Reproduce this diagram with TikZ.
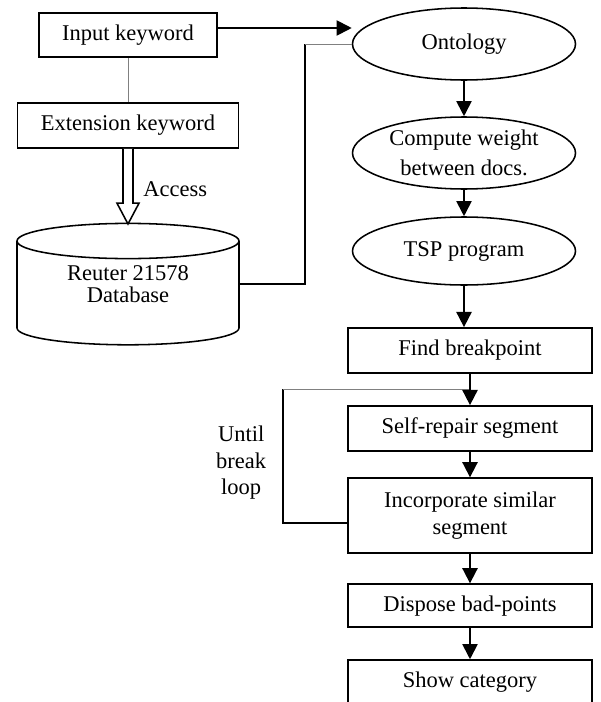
\documentclass[tikz,border=0pt]{standalone}
\usepackage{fontspec}
\setmainfont{Liberation Serif}
\usepackage{tikz}
\usetikzlibrary{shapes.geometric, arrows.meta, calc}
\tikzstyle{box}      = [rectangle, minimum width=6.1cm, minimum height=1.125cm, text centered, draw=black, line width=1.1pt]
\tikzstyle{oval}     = [ellipse, minimum width=5.575cm, minimum height=1.8cm, inner sep=0pt, text centered, draw=black, line width=1.1pt]
\tikzstyle{store}    = [rectangle, minimum width=5.55cm, minimum height=2.2cm, text centered]
\tikzstyle{arrow}    = [line width=1.3pt, -{Triangle[width=0.38cm, length=0.38cm]}]
\tikzstyle{hollow}   = [line width=1.1pt, fill=white, line join=miter]
\tikzstyle{link}     = [line width=1.1pt]
\tikzstyle{thinlink} = [line width=0.7pt, gray]
\tikzset{every node/.style={align=center, font=\fontsize{16}{19}\selectfont}}

\begin{document}
\begin{tikzpicture}
    \useasboundingbox (0,0) rectangle (15,-17.55);

    \node (inp) at ( 3.2,  -0.875)  [box, minimum width=4.45cm, minimum height=1.1cm] {Input keyword};
    \node (ext) at ( 3.2,  -3.14)   [box, minimum width=5.525cm] {Extension keyword};
    \node (db)  at ( 3.2,  -7.1)    [store, font=\fontsize{16}{15.5}\selectfont] {Reuter 21578\\Database};
    \node (acc) at ( 4.38, -4.72)   {Access};
    \node (ont) at (11.6,  -1.1)    [oval] {Ontology};
    \node (cmp) at (11.6,  -3.825)  [oval, font=\fontsize{16}{21}\selectfont] {Compute weight\\between docs.};
    \node (tsp) at (11.6,  -6.275)  [oval, minimum height=1.7cm] {TSP program};
    \node (fbp) at (11.75, -8.76)   [box] {Find breakpoint};
    \node (srp) at (11.75, -10.71)  [box] {Self-repair segment};
    \node (inc) at (11.75, -12.89)  [box, minimum height=1.875cm] {Incorporate similar\\segment};
    \node (dsp) at (11.75, -15.14)  [box, minimum height=1.075cm] {Dispose bad-points};
    \node (shw) at (11.75, -17.05)  [box, minimum height=1.1cm] {Show category};
    \node (unt) at ( 6.03, -11.575) [font=\fontsize{16}{18.8}\selectfont] {Until\\break\\loop};

    % database cylinder
    \draw [link] (3.2,-6.025) ellipse [x radius=2.775, y radius=0.44];
    \draw [link] (0.425,-6.025) -- (0.425,-8.2) arc [start angle=180, end angle=360, x radius=2.775, y radius=0.42] -- (5.975,-6.025);

    \coordinate (dbtop) at (3.2,-5.6);
    \coordinate (bend)  at (7.625,-1.1);
    \coordinate (lp)    at (7.075,-9.725);

    \draw [thinlink] (inp) -- (ext);
    \draw [hollow] ($(ext.south)+(-0.125,0)$) -- ($(dbtop)+(-0.125,0.52)$) -- ($(dbtop)+(-0.275,0.52)$) -- (dbtop)
                   -- ($(dbtop)+(0.275,0.52)$) -- ($(dbtop)+(0.125,0.52)$) -- ($(ext.south)+(0.125,0)$);
    \draw [arrow] ([yshift=0.175cm]inp.east) -- ([yshift=0.4cm]ont.west);
    \draw [link] (db.east) -| (bend);
    \draw [thinlink] (bend) -- (ont.west);

    \draw [arrow] (ont) -- (cmp);
    \draw [arrow] (cmp) -- (tsp);
    \draw [arrow] (tsp.south) -- (tsp.south |- fbp.north);
    \draw [link] ([yshift=-0.185cm]inc.west) -| (lp);
    \draw [thinlink] (lp) -- (lp -| fbp.south);
    \draw [arrow] (fbp) -- (srp);
    \draw [arrow] (srp) -- (inc);
    \draw [arrow] (inc) -- (dsp);
    \draw [arrow] (dsp) -- (shw);
\end{tikzpicture}
\end{document}
